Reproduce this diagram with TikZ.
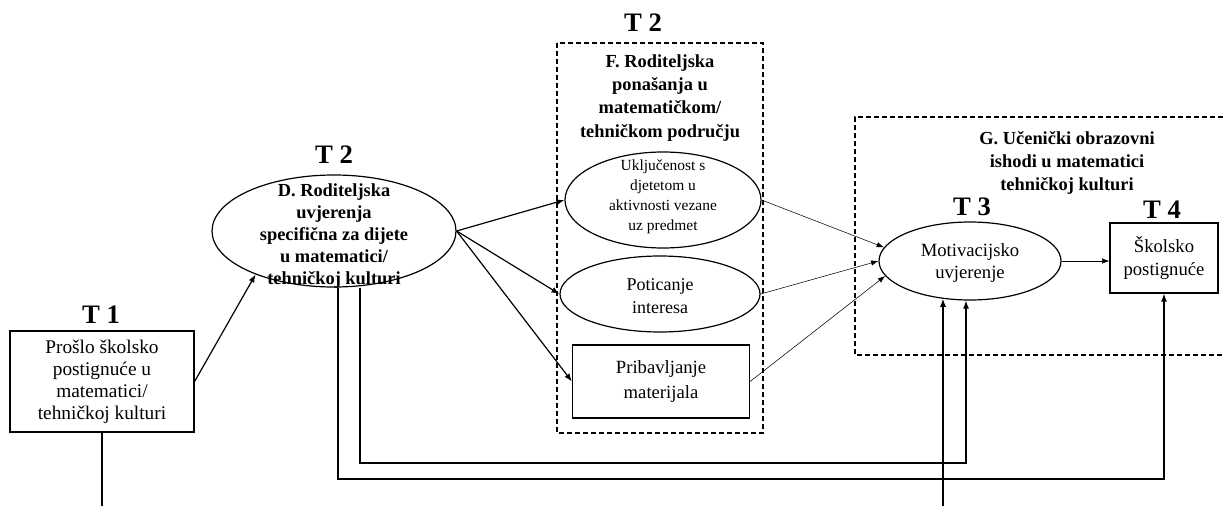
\documentclass[tikz,border=0pt]{standalone}
\usepackage{fontspec}
\setmainfont{Liberation Serif}
\usetikzlibrary{shapes.geometric,arrows.meta,calc}
\begin{document}
\begin{tikzpicture}[x=0.75pt,y=-0.75pt,
  bt/.style={font=\fontsize{13.8}{17.3}\selectfont\bfseries, align=center, inner sep=0pt},
  tl/.style={font=\fontsize{20}{22}\selectfont\bfseries, inner sep=0pt},
  txt/.style={align=center, inner sep=0pt},
  ell/.style={ellipse, draw, line width=0.9pt, inner sep=0pt},
  box/.style={rectangle, draw, line width=0.9pt, inner sep=0pt, align=center},
  arr/.style={-{Latex[length=6pt,width=4.5pt]}, line width=0.9pt},
  thinarr/.style={-{Latex[length=5.5pt,width=4pt]}, line width=0.4pt},
  dbox/.style={dash pattern=on 3.5pt off 2.5pt, line width=0.9pt}]
\useasboundingbox (0,0) rectangle (1223,506);

% Time labels
\node[tl] (t1) at (101,315) {T 1};
\node[tl] (t2a) at (334,155) {T 2};
\node[tl] (t2b) at (643,23) {T 2};
\node[tl] (t3) at (972,207) {T 3};
\node[tl] (t4) at (1162,210) {T 4};

% dashed groups
\draw[dbox] (557,43) rectangle (763,433);
\node[bt] (ftitle) at (660,98) {F. Roditeljska\\ponašanja u\\matematičkom/\\tehničkom području};
\draw[dbox] (1223,117) -- (855,117) -- (855,355) -- (1223,355);
\node[bt] (gtitle) at (1067,163) {G. Učenički obrazovni\\ishodi u matematici\\tehničkoj kulturi};

% nodes
\node[box, minimum width=138pt, minimum height=75.75pt, font=\fontsize{14.5}{16.5}\selectfont]
  (past) at (102,381.5) {Prošlo školsko\\postignuće u\\matematici/\\tehničkoj kulturi};

\node[ell, minimum width=183pt, minimum height=84pt] (D) at (334,231) {};
\node[txt, font=\fontsize{13.8}{16.5}\selectfont\bfseries] (Dt) at (334,236)
  {D. Roditeljska\\uvjerenja\\specifična za dijete\\u matematici/\\tehničkoj kulturi};

\node[ell, minimum width=147pt, minimum height=72pt] (U) at (663,200) {};
\node[txt, font=\fontsize{11.6}{15}\selectfont] (Ut) at (663,197)
  {Uključenost s\\djetetom u\\aktivnosti vezane\\uz predmet};

\node[ell, minimum width=150pt, minimum height=57pt] (P) at (660,294) {};
\node[txt, font=\fontsize{13.5}{17}\selectfont] (Pt) at (660,296) {Poticanje\\interesa};

\node[box, minimum width=132.75pt, minimum height=54.75pt, font=\fontsize{14}{19}\selectfont]
  (M) at (661,381.5) {Pribavljanje\\materijala};

\node[ell, minimum width=136.5pt, minimum height=58.5pt] (Mot) at (970,261) {};
\node[txt, font=\fontsize{14}{17}\selectfont] (Mott) at (970,263) {Motivacijsko\\uvjerenje};

\node[box, minimum width=81pt, minimum height=52.5pt, font=\fontsize{14}{17.5}\selectfont]
  (S) at (1164,258) {Školsko\\postignuće};

% helper coordinates
\coordinate (b1) at (102,506);
\coordinate (b3) at (943,506);
\coordinate (inner) at (700,463);
\coordinate (outer) at (700,479);

% connectors
\draw[arr] (past.east) -- (D.209);
\draw[arr] (D.east) -- (U.west);
\draw[arr] (D.east) -- (P.west);
\draw[arr] (D.east) -- (M.west);
\draw[thinarr] (U.east) -- (Mot.171);
\draw[thinarr] (P.east) -- (Mot.west);
\draw[thinarr] (M.east) -- (Mot.190);
\draw[thinarr] (Mot.east) -- (Mot.east -| S.west);
\draw[line width=0.9pt] (past.south) -- (b1);
\draw[arr] ([xshift=19.5pt]D.south) |- (inner) -| ([xshift=-3pt]Mot.south);
\draw[arr] ([xshift=3pt]D.south) |- (outer) -| (S.south);
\draw[arr] (b3) -- (b3 |- Mot.234);
\end{tikzpicture}
\end{document}
